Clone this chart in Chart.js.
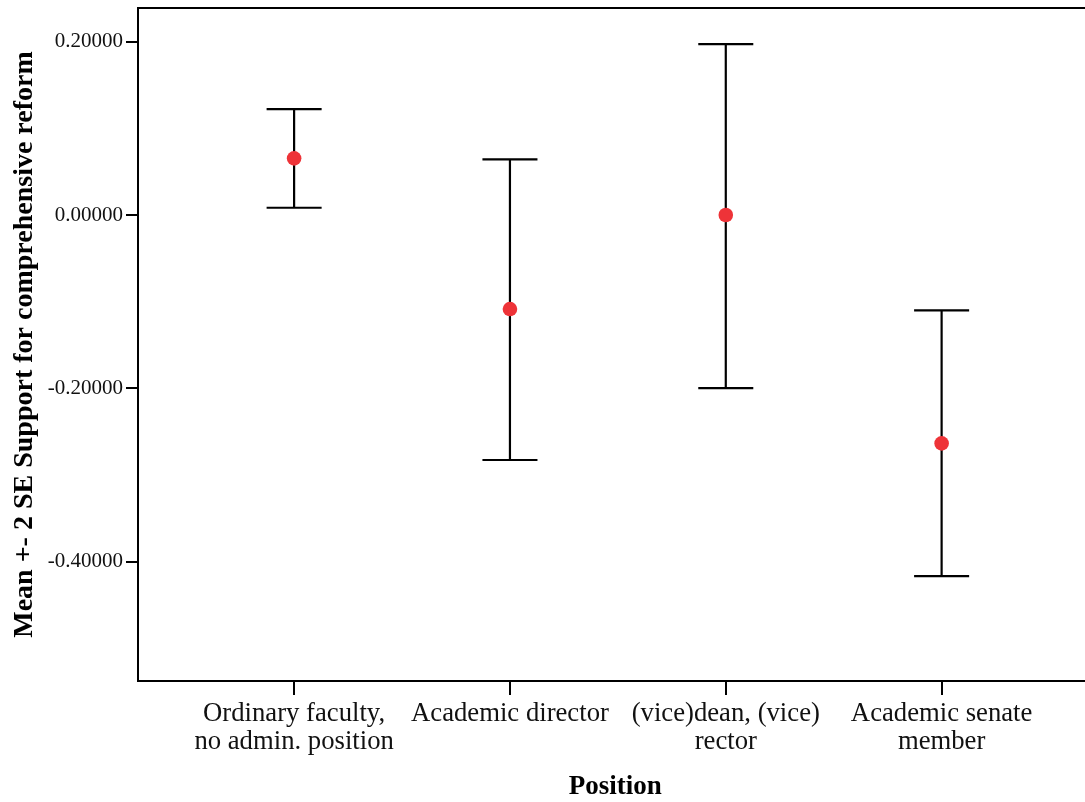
<!DOCTYPE html>
<html>
<head>
<meta charset="utf-8">
<script src="https://cdn.jsdelivr.net/npm/chart.js@4.4.1/dist/chart.umd.min.js"></script>
<style>
  html, body { margin: 0; padding: 0; background: #fff; overflow: hidden; }
  #wrap { width: 1085px; height: 802px; overflow: hidden; }
  canvas { display: block; }
</style>
</head>
<body>
<div id="wrap"><canvas id="chart" width="1100" height="802"></canvas></div>
<script>
// Groups on the x axis
const categories = [
  ["Ordinary faculty,", "no admin. position"],
  ["Academic director"],
  ["(vice)dean, (vice)", "rector"],
  ["Academic senate", "member"]
];
// Mean and mean +/- 2 SE for each group
const means = [0.0654, -0.1085, 0.0000, -0.2635];
const upper = [0.1223, 0.0643, 0.1973, -0.1100];
const lower = [0.0084, -0.2827, -0.1997, -0.4166];
// Y axis tick values
const yTicks = [0.2, 0.0, -0.2, -0.4];

const xPos = categories.map((c, i) => i + 1);
const capHalf = 0.1275;   // half width of the whisker caps, in x units

// whisker stems, separated by gaps
const stems = [];
xPos.forEach((x, i) => {
  stems.push({ x, y: lower[i] }, { x, y: upper[i] }, { x, y: null });
});
// caps at both ends of each whisker
const caps = [];
xPos.forEach((x, i) => {
  [upper[i], lower[i]].forEach(v => {
    caps.push({ x: x - capHalf, y: v }, { x: x + capHalf, y: v }, { x, y: null });
  });
});
const points = xPos.map((x, i) => ({ x, y: means[i] }));

const serif = "'Liberation Serif', 'Times New Roman', serif";

const topBorder = {
  id: 'topBorder',
  afterDraw(chart) {
    const { ctx, chartArea } = chart;
    ctx.save();
    ctx.strokeStyle = '#000';
    ctx.lineWidth = 2;
    ctx.beginPath();
    ctx.moveTo(chartArea.left - 1, chartArea.top);
    ctx.lineTo(chartArea.right + 10, chartArea.top);
    ctx.stroke();
    ctx.restore();
  }
};

new Chart(document.getElementById('chart'), {
  type: 'scatter',
  data: {
    datasets: [
      {
        label: 'Mean',
        data: points,
        pointRadius: 7.3,
        pointHoverRadius: 7.3,
        pointBackgroundColor: '#ee3338',
        pointBorderWidth: 0,
        showLine: false
      },
      {
        type: 'line',
        label: 'stems',
        data: stems,
        borderColor: '#000',
        borderWidth: 2.2,
        pointRadius: 0,
        spanGaps: false,
        tension: 0
      },
      {
        type: 'line',
        label: 'caps',
        data: caps,
        borderColor: '#000',
        borderWidth: 2.2,
        pointRadius: 0,
        spanGaps: false,
        tension: 0
      }
    ]
  },
  options: {
    responsive: false,
    animation: false,
    devicePixelRatio: 1,
    layout: { padding: { top: 8, left: 0, right: 3, bottom: 0 } },
    plugins: { legend: { display: false }, tooltip: { enabled: false } },
    scales: {
      x: {
        type: 'linear',
        min: 0.2767,
        max: 4.70,
        afterBuildTicks: s => { s.ticks = xPos.map(v => ({ value: v })); },
        afterFit: s => { s.height = 121; s.paddingLeft = 0; s.paddingRight = 0; },
        grid: { drawOnChartArea: false, drawTicks: true, tickLength: 14, color: '#000', lineWidth: 2 },
        border: { display: true, color: '#000', width: 2 },
        ticks: {
          autoSkip: false,
          maxRotation: 0,
          padding: 5,
          color: '#111',
          font: { family: serif, size: 26.7, lineHeight: 1.05 },
          callback: (v, i) => categories[i]
        },
        title: {
          display: true,
          text: 'Position',
          color: '#000',
          font: { family: serif, size: 27, weight: 'bold', lineHeight: 1.1 },
          padding: { top: 0, bottom: 0 }
        }
      },
      y: {
        min: -0.5377,
        max: 0.2389,
        afterBuildTicks: s => { s.ticks = yTicks.map(v => ({ value: v })); },
        afterFit: s => { s.width = 138; s.paddingTop = 0; s.paddingBottom = 0; },
        grid: { drawOnChartArea: false, drawTicks: true, tickLength: 12, color: '#000', lineWidth: 2 },
        border: { display: true, color: '#000', width: 2 },
        ticks: {
          padding: 3,
          color: '#111',
          font: { family: serif, size: 21 },
          callback: v => v.toFixed(5)
        },
        title: {
          display: true,
          text: 'Mean +- 2 SE Support for comprehensive reform',
          color: '#000',
          font: { family: serif, size: 28, weight: 'bold', lineHeight: 1.2 },
          padding: { top: 8, bottom: 0 }
        }
      }
    }
  },
  plugins: [topBorder]
});
</script>
</body>
</html>
